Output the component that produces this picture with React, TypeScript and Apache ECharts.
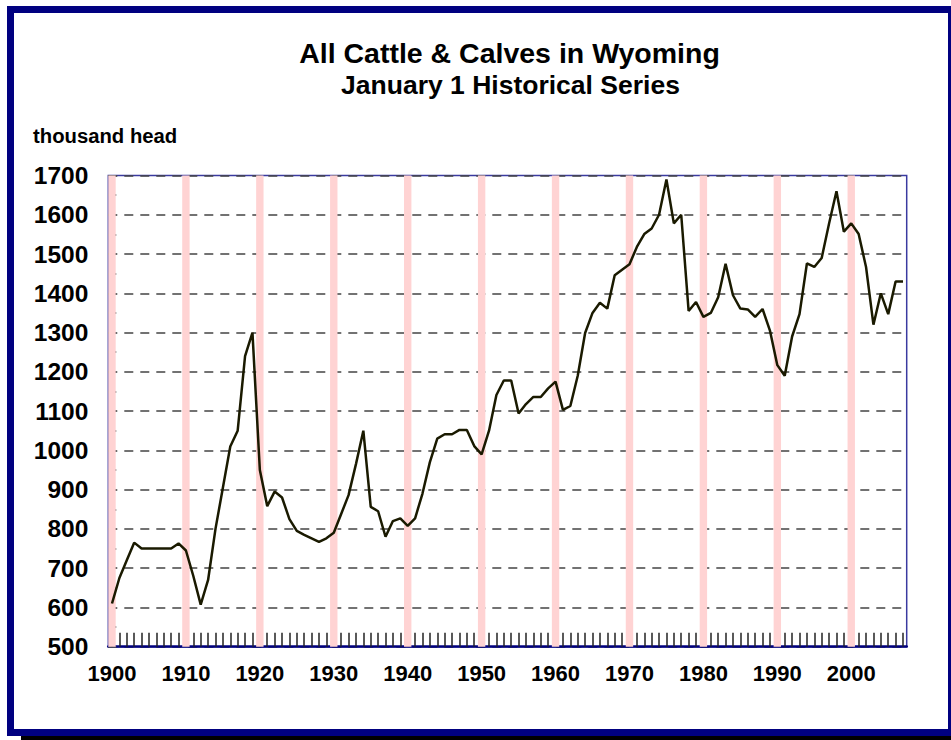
import React, { useEffect, useRef } from "react";
import * as echarts from "echarts";

const years: string[] = [];
for (let y = 1900; y <= 2007; y++) years.push(String(y));

const cattle = [
  610, 675, 720, 765, 750, 750, 750, 750, 750, 763,
  745, 680, 607, 670, 800, 905, 1010, 1050, 1240, 1300,
  950, 858, 895, 880, 825, 795, 785, 776, 767, 776,
  790, 838, 886, 965, 1050, 856, 845, 780, 820, 827,
  808, 827, 890, 970, 1030, 1041, 1041, 1052, 1052, 1011,
  990, 1050, 1141, 1178, 1178, 1094, 1118, 1136, 1136, 1158,
  1175, 1103, 1113, 1190, 1299, 1350, 1376, 1361, 1446, 1460,
  1474, 1518, 1551, 1565, 1600, 1690, 1578, 1600, 1355, 1378,
  1340, 1350, 1390, 1475, 1395, 1361, 1359, 1340, 1360, 1305,
  1217, 1190, 1290, 1347, 1476, 1467, 1490, 1578, 1660, 1557,
  1578, 1551, 1467, 1320, 1400, 1347, 1430, 1430,
];

const decadeYears = ["1900", "1910", "1920", "1930", "1940", "1950", "1960", "1970", "1980", "1990", "2000"];
const bandTop = 1700;

const FONT = 'Arial, "Liberation Sans", sans-serif';

export default function App() {
  const ref = useRef<HTMLDivElement>(null);
  useEffect(() => {
    document.body.style.margin = "0";
    const chart = echarts.init(ref.current!, null, { renderer: "svg" });
    const bands = years.map((y) => (decadeYears.includes(y) ? bandTop : "-"));
    chart.setOption({
      animation: false,
      graphic: [
        {
          type: "text",
          style: {
            text: "All Cattle & Calves in Wyoming",
            x: 509.5,
            y: 52.5,
            align: "center",
            verticalAlign: "middle",
            font: `bold 28.5px ${FONT}`,
            fill: "#000",
          },
        },
        {
          type: "text",
          style: {
            text: "January 1 Historical Series",
            x: 510.5,
            y: 85,
            align: "center",
            verticalAlign: "middle",
            font: `bold 26.5px ${FONT}`,
            fill: "#000",
          },
        },
        {
          type: "text",
          style: {
            text: "thousand head",
            x: 33,
            y: 135.5,
            align: "left",
            verticalAlign: "middle",
            font: `bold 20.3px ${FONT}`,
            fill: "#000",
          },
        },
      ],
      grid: {
        left: 108.3,
        right: 44.3,
        top: 175.5,
        bottom: 93.3,
        show: true,
        borderColor: "#3a3aa0",
        borderWidth: 1.5,
        backgroundColor: "transparent",
      },
      xAxis: {
        type: "category",
        data: years,
        boundaryGap: true,
        axisLine: { show: true, lineStyle: { color: "#000080", width: 2.5 } },
        axisTick: {
          show: true,
          inside: true,
          alignWithLabel: true,
          interval: 0,
          length: 14,
          lineStyle: { color: "#222", width: 1.5 },
        },
        axisLabel: {
          interval: 9,
          margin: 16,
          fontSize: 22,
          fontWeight: "bold",
          fontFamily: FONT,
          color: "#000",
        },
        splitLine: { show: false },
      },
      yAxis: {
        type: "value",
        min: 500,
        max: 1700,
        interval: 100,
        axisLine: { show: false },
        axisTick: {
          show: true,
          inside: true,
          length: 8,
          lineStyle: { color: "#555", width: 1.5 },
        },
        minorTick: {
          show: true,
          splitNumber: 2,
          length: 8,
          lineStyle: { color: "#555", width: 1.5 },
        },
        axisLabel: {
          margin: 20,
          fontSize: 24.5,
          fontWeight: "bold",
          fontFamily: FONT,
          color: "#000",
          formatter: (v: number) => String(v),
        },
        splitLine: {
          show: true,
          lineStyle: { color: "#444", width: 1.5, type: [9, 7] },
        },
      },
      series: [
        {
          type: "bar",
          data: bands,
          barWidth: 7.4,
          itemStyle: { color: "#ffd3d3" },
          silent: true,
          z: 1,
        },
        {
          type: "line",
          data: cattle,
          symbol: "none",
          lineStyle: { color: "#1a1a00", width: 2.5 },
          z: 3,
        },
      ],
    });
    return () => chart.dispose();
  }, []);

  return (
    <div style={{ position: "relative", width: 951, height: 740, overflow: "hidden", background: "#fff" }}>
      <div style={{ position: "absolute", left: 21, top: 13, width: 940, height: 730, background: "#000" }} />
      <div style={{ position: "absolute", left: 7, top: 6, width: 950, height: 730, background: "#000080" }} />
      <div style={{ position: "absolute", left: 14, top: 13, width: 934, height: 716, background: "#fff" }} />
      <div ref={ref} style={{ position: "absolute", left: 0, top: 0, width: 951, height: 740 }} />
    </div>
  );
}
